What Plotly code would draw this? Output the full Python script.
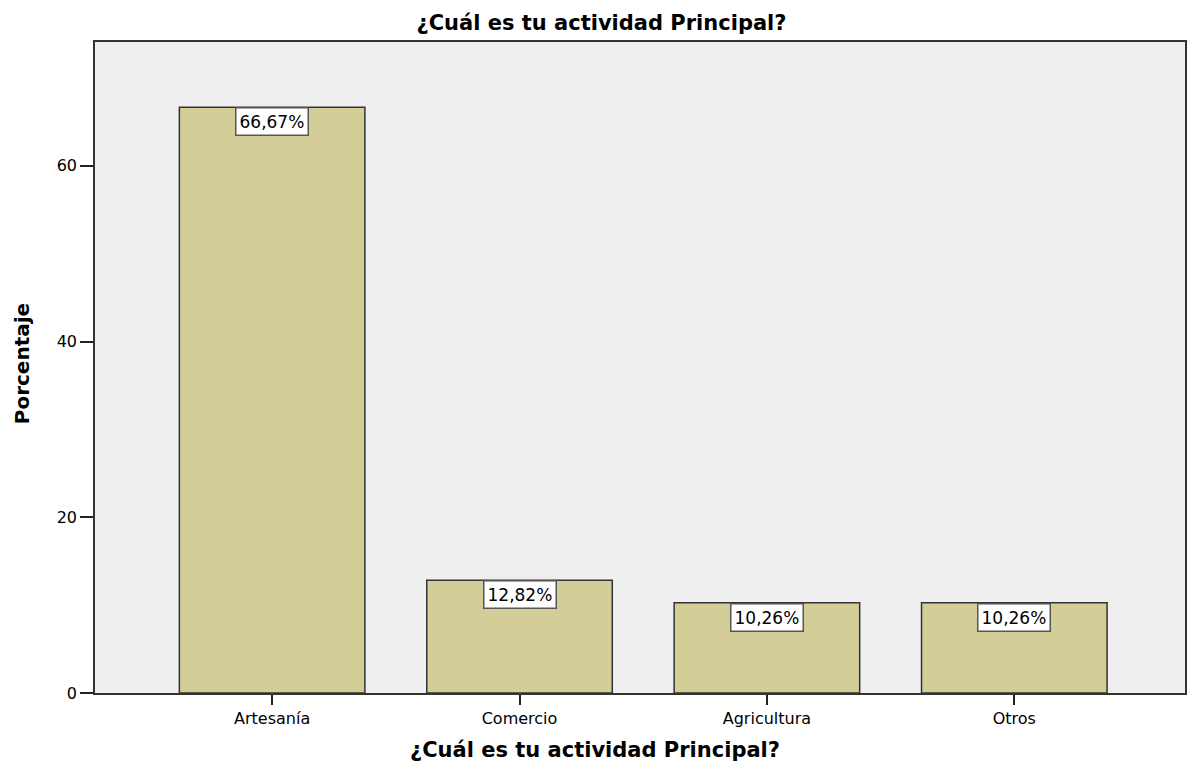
import plotly.graph_objects as go

categories = ["Artesanía", "Comercio", "Agricultura", "Otros"]
values = [66.67, 12.82, 10.26, 10.26]
labels = ["66,67%", "12,82%", "10,26%", "10,26%"]
yticks = [0, 20, 40, 60]

FONT = "DejaVu Sans, Arial"

fig = go.Figure()
fig.add_trace(go.Bar(
    x=list(range(len(categories))), y=values, width=0.75,
    marker=dict(color="#d3cd97", line=dict(color="#333333", width=1.5)),
    hoverinfo="skip"))

for i, (v, t) in enumerate(zip(values, labels)):
    fig.add_annotation(x=i, y=v, text=t, showarrow=False, yanchor="top",
                       bgcolor="white", bordercolor="#555555", borderwidth=1.5,
                       borderpad=3, font=dict(family=FONT, size=17, color="black"))

# x-axis title (centered on page like the reference)
fig.add_annotation(xref="paper", yref="paper", x=0.4587, y=0, yshift=-57,
                   xanchor="center", yanchor="middle", showarrow=False,
                   text="<b>¿Cuál es tu actividad Principal?</b>",
                   font=dict(family=FONT, size=21, color="black"))
# y-axis title
fig.add_annotation(xref="paper", yref="paper", x=0, xshift=-73, y=0.505,
                   xanchor="center", yanchor="middle", showarrow=False, textangle=-90,
                   text="<b>Porcentaje</b>",
                   font=dict(family=FONT, size=20, color="black"))

fig.update_layout(
    width=1187, height=758,
    margin=dict(l=87, r=8, t=34, b=73),
    paper_bgcolor="white", plot_bgcolor="#efefef",
    showlegend=False,
    font=dict(family=FONT, color="black"),
    title=dict(text="<b>¿Cuál es tu actividad Principal?</b>", x=0.5, xanchor="center",
               y=0.981, yanchor="middle", font=dict(size=21, family=FONT)),
    xaxis=dict(range=[-0.716, 3.69], tickmode="array", tickvals=list(range(len(categories))),
               ticktext=categories, ticks="outside", ticklen=10, tickwidth=1.5, tickcolor="#222",
               showgrid=False, zeroline=False, showline=True, linecolor="#333", linewidth=1.5,
               mirror=True, tickfont=dict(size=16)),
    yaxis=dict(range=[0, 74.1], tickmode="array", tickvals=yticks, ticks="outside", ticklen=13,
               tickwidth=1.5, tickcolor="#222", showgrid=False, zeroline=False, showline=True,
               linecolor="#333", linewidth=1.5, mirror=True, tickfont=dict(size=16)),
)

fig.write_html("out.html")
